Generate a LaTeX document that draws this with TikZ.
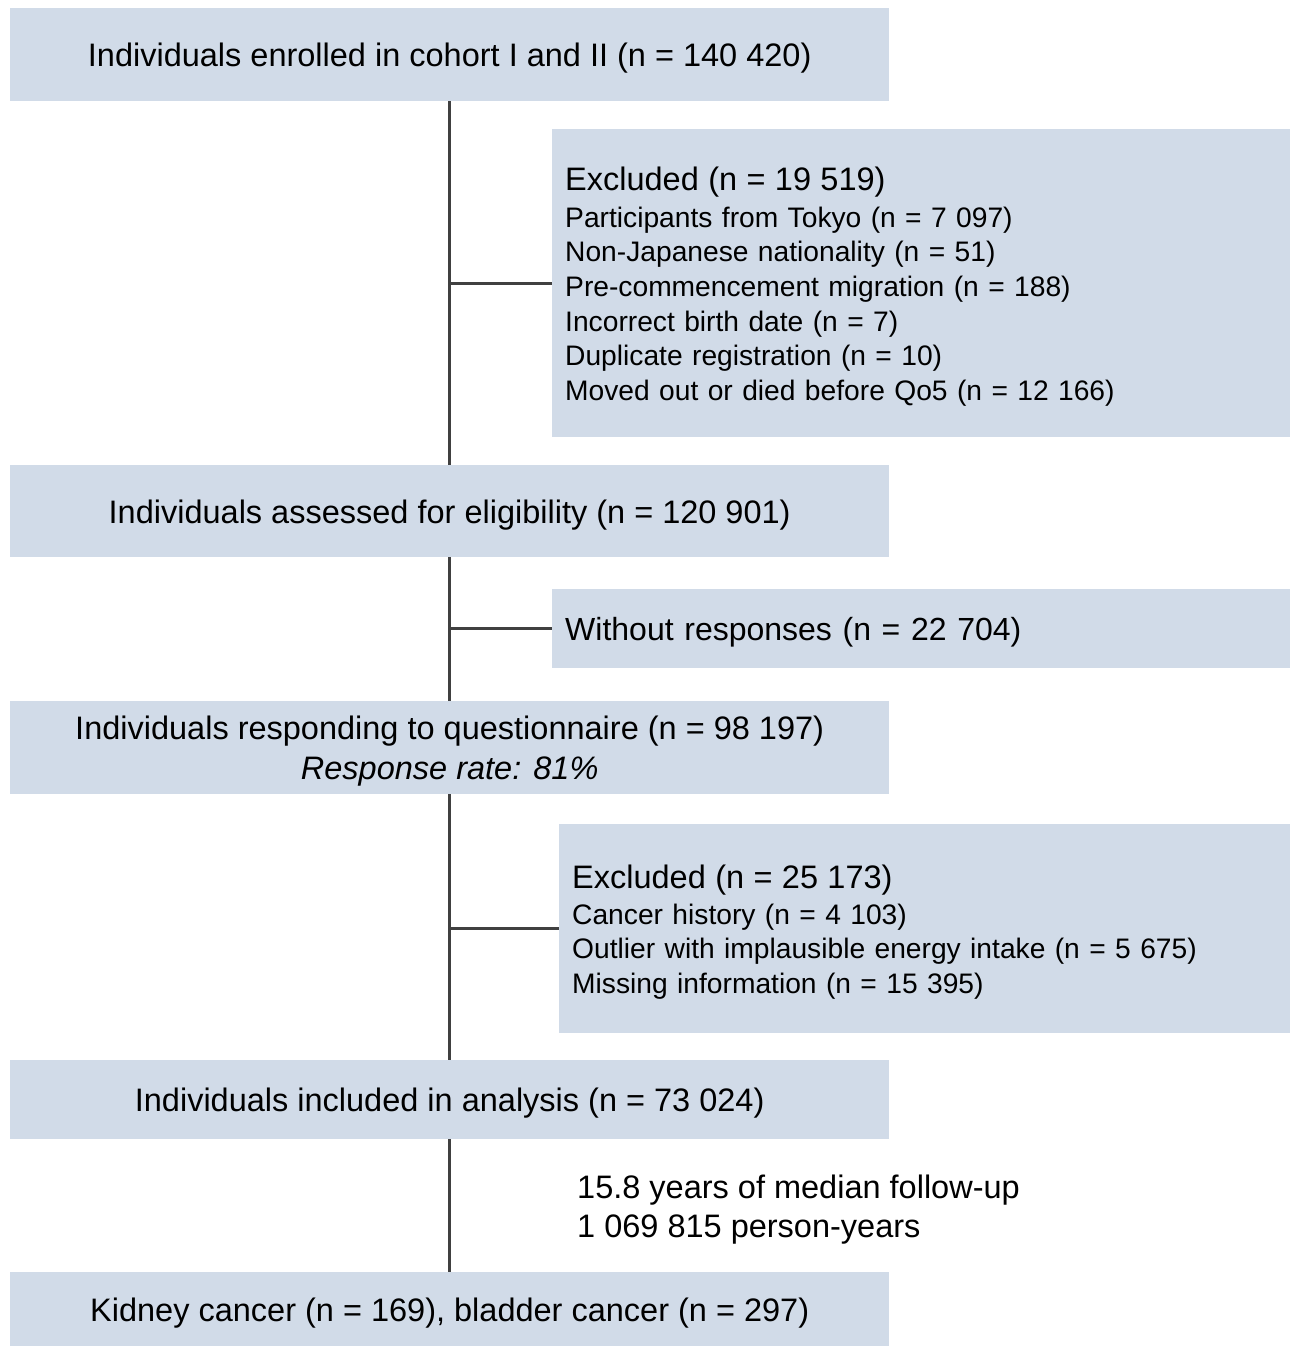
\documentclass[tikz,border=0pt]{standalone}
\usepackage{fontspec}
\setmainfont{Liberation Sans}
\definecolor{boxfill}{RGB}{209,219,232}
\definecolor{linegrey}{RGB}{64,64,64}
\begin{document}
\begin{tikzpicture}[x=1pt,y=-1pt,
  mainbox/.style={fill=boxfill,draw=none,anchor=north west,inner sep=0pt,minimum width=879pt,
    align=center,text height=30.5pt,font=\fontsize{32.5}{40}\selectfont},
  sidebox/.style={fill=boxfill,draw=none,anchor=north west,inner xsep=13pt,inner ysep=0pt,
    align=left,text height=30.5pt,font=\fontsize{28.2}{34.7}\selectfont},
  conn/.style={draw=linegrey,line width=2.6pt}]
\useasboundingbox (0,0) rectangle (1295,1346);
\node[mainbox,minimum height=93pt] (b1) at (10,8) {Individuals enrolled in cohort I and II (n = 140 420)};
\node[sidebox,minimum height=308pt,text width=712pt] (ex1) at (552,129)
  {{\fontsize{32.5}{34.7}\selectfont Excluded (n = 19 519)}\\[2pt]
   Participants from Tokyo (n = 7 097)\\
   Non-Japanese nationality (n = 51)\\
   Pre-commencement migration (n = 188)\\
   Incorrect birth date (n = 7)\\
   Duplicate registration (n = 10)\\
   Moved out or died before Qo5 (n = 12 166)};
\node[mainbox,minimum height=92pt] (b2) at (10,465) {Individuals assessed for eligibility (n = 120 901)};
\node[sidebox,minimum height=79pt,text width=712pt,font=\fontsize{32}{40}\selectfont] (wr) at (552,589)
  {Without responses (n = 22 704)};
\node[mainbox,minimum height=93pt,text height=70.5pt] (b3) at (10,701) {Individuals responding to questionnaire (n = 98 197)\\ \textit{Response rate: 81\%}};
\node[sidebox,minimum height=209pt,text width=705pt] (ex2) at (559,824)
  {{\fontsize{32.5}{34.7}\selectfont Excluded (n = 25 173)}\\[1pt]
   Cancer history (n = 4 103)\\
   Outlier with implausible energy intake (n = 5 675)\\
   Missing information (n = 15 395)};
\node[mainbox,minimum height=79pt] (b4) at (10,1060) {Individuals included in analysis (n = 73 024)};
\node[anchor=west,inner sep=0pt,align=left,font=\fontsize{32.5}{39}\selectfont] (fu) at (577,1210)
  {15.8 years of median follow-up\\ 1 069 815 person-years};
\node[mainbox,minimum height=74pt] (b5) at (10,1272) {Kidney cancer (n = 169), bladder cancer (n = 297)};
\draw[conn] (b1.south) -- (b2.north);
\draw[conn] (b2.south) -- (b3.north);
\draw[conn] (b3.south) -- (b4.north);
\draw[conn] (b4.south) -- (b5.north);
\draw[conn] (b1.south |- ex1.west) -- (ex1.west);
\draw[conn] (b2.south |- wr.west) -- (wr.west);
\draw[conn] (b3.south |- ex2.west) -- (ex2.west);
\end{tikzpicture}
\end{document}
